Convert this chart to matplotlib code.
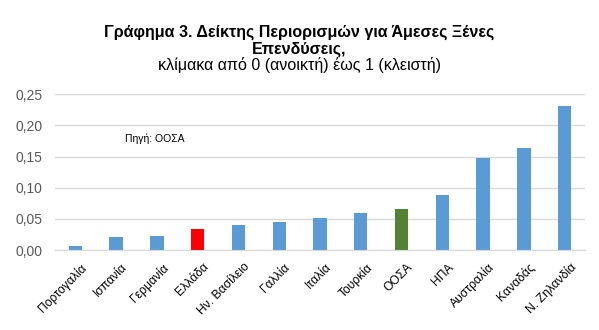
import matplotlib.pyplot as plt
import matplotlib.transforms as mtransforms

plt.rcParams['font.family'] = ['Liberation Sans', 'DejaVu Sans']

countries = ['Πορτογαλία', 'Ισπανία', 'Γερμανία', 'Ελλάδα', 'Ην. Βασίλειο', 'Γαλλία',
             'Ιταλία', 'Τουρκία', 'ΟΟΣΑ', 'ΗΠΑ', 'Αυστραλία', 'Καναδάς', 'Ν. Ζηλανδία']
values = [0.007, 0.021, 0.023, 0.033, 0.040, 0.045, 0.052, 0.059, 0.066, 0.089, 0.147, 0.163, 0.232]
yticks = [0.0, 0.05, 0.10, 0.15, 0.20, 0.25]

colors = ['#5B9BD5'] * len(countries)
colors[countries.index('Ελλάδα')] = '#FF0000'
colors[countries.index('ΟΟΣΑ')] = '#548235'

fig = plt.figure(figsize=(5.99, 3.30), dpi=100)
ax = fig.add_axes([55 / 599, 1 - 250 / 330, 530 / 599, (250 - 94.3) / 330])

x = list(range(len(countries)))
ax.bar(x, values, width=0.33, color=colors, zorder=3)

ax.set_xlim(-0.5, len(countries) - 0.5)
ax.set_ylim(0, 0.25)
ax.set_yticks(yticks)
ax.set_yticklabels([f'{v:.2f}'.replace('.', ',') for v in yticks], color='#595959', fontsize=10)
ax.set_xticks(x)
ax.set_xticklabels(countries, rotation=45, ha='right', rotation_mode='anchor',
                   fontsize=8.7, color='#000000',
                   family=['Liberation Sans Narrow', 'Liberation Sans', 'DejaVu Sans'])
ax.tick_params(axis='y', length=0, pad=9)
ax.tick_params(axis='x', length=0, pad=8)
# nudge the rotated labels a little to the right, like the original
shift = mtransforms.ScaledTranslation(5 / 100, 0, fig.dpi_scale_trans)
for lab in ax.get_xticklabels():
    lab.set_transform(lab.get_transform() + shift)
ax.grid(axis='y', color='#D9D9D9', linewidth=1, zorder=0)
for s in ['top', 'right', 'left']:
    ax.spines[s].set_visible(False)
ax.spines['bottom'].set_color('#D9D9D9')
ax.spines['bottom'].set_zorder(4)

# source note
ax.text(1.22, 0.178, 'Πηγή: ΟΟΣΑ', fontsize=7.5, va='center', ha='left')

fig.text(0.5, 1 - 32 / 330, 'Γράφημα 3. Δείκτης Περιορισμών για Άμεσες Ξένες',
         ha='center', va='center', fontsize=11.5, fontweight='bold')
fig.text(0.5, 1 - 49 / 330, 'Επενδύσεις,', ha='center', va='center',
         fontsize=11.5, fontweight='bold')
fig.text(0.5, 1 - 65 / 330, 'κλίμακα από 0 (ανοικτή) έως 1 (κλειστή)', ha='center',
         va='center', fontsize=11.5)

fig.savefig('out.png', dpi=100)
